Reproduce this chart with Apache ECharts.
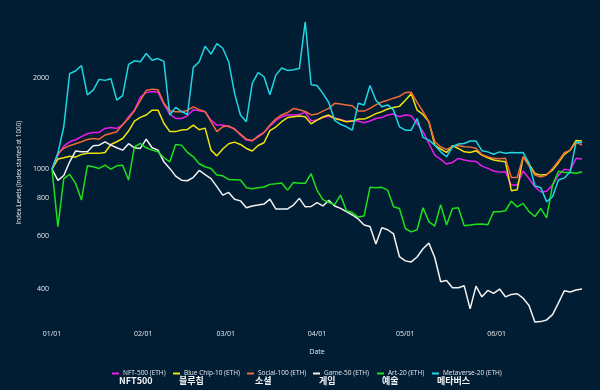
<!DOCTYPE html>
<html>
<head>
<meta charset="utf-8">
<script src="https://cdn.jsdelivr.net/npm/echarts@6/dist/echarts.min.js"></script>
<style>
html,body{margin:0;padding:0;background:#011d33;}
#chart{width:600px;height:390px;}
</style>
</head>
<body>
<div id="chart"></div>
<script>
// Dates (every second day, 2022-01-01 .. 2022-06-30)
var dates = [
'2022-01-01','2022-01-03','2022-01-05','2022-01-07','2022-01-09','2022-01-11','2022-01-13','2022-01-15','2022-01-17','2022-01-19','2022-01-21','2022-01-23','2022-01-25','2022-01-27','2022-01-29','2022-01-31',
'2022-02-02','2022-02-04','2022-02-06','2022-02-08','2022-02-10','2022-02-12','2022-02-14','2022-02-16','2022-02-18','2022-02-20','2022-02-22','2022-02-24','2022-02-26','2022-02-28',
'2022-03-02','2022-03-04','2022-03-06','2022-03-08','2022-03-10','2022-03-12','2022-03-14','2022-03-16','2022-03-18','2022-03-20','2022-03-22','2022-03-24','2022-03-26','2022-03-28','2022-03-30',
'2022-04-01','2022-04-03','2022-04-05','2022-04-07','2022-04-09','2022-04-11','2022-04-13','2022-04-15','2022-04-17','2022-04-19','2022-04-21','2022-04-23','2022-04-25','2022-04-27','2022-04-29',
'2022-05-01','2022-05-03','2022-05-05','2022-05-07','2022-05-09','2022-05-11','2022-05-13','2022-05-15','2022-05-17','2022-05-19','2022-05-21','2022-05-23','2022-05-25','2022-05-27','2022-05-29','2022-05-31',
'2022-06-02','2022-06-04','2022-06-06','2022-06-08','2022-06-10','2022-06-12','2022-06-14','2022-06-16','2022-06-18','2022-06-20','2022-06-22','2022-06-24','2022-06-26','2022-06-28','2022-06-30'
];

var nft500 = [1000,1112,1191,1231,1250,1280,1309,1322,1322,1363,1373,1363,1398,1490,1566,1730,1790,1806,1795,
1636,1520,1470,1470,1500,1570,1560,1548,1452,1398,1398,1380,1363,1296,1247,1238,1290,
1322,1387,1446,1490,1510,1510,1515,1540,1442,1452,1480,1495,1475,1460,1438,1442,1442,1423,
1442,1470,1480,1510,1520,1490,1510,1500,1415,1330,1215,1112,1076,1039,1052,1085,1071,1063,
1060,1023,1005,985,977,980,885,885,985,931,874,840,845,885,955,998,992,1085,1079];

var blueChip10 = [1000,1079,1090,1103,1095,1118,1127,1127,1127,1135,1206,1231,1262,1336,1441,1482,1509,1566,1566,
1417,1330,1330,1346,1352,1398,1349,1366,1155,1106,1165,1213,1228,1206,1170,1147,1197,
1222,1340,1377,1434,1480,1490,1497,1490,1411,1452,1487,1509,1470,1452,1434,1441,1463,1463,
1490,1525,1548,1580,1597,1612,1690,1775,1566,1516,1434,1200,1165,1135,1195,1170,1140,1135,
1150,1112,1090,1071,1063,1057,848,854,1098,1039,967,955,960,992,1050,1118,1155,1243,1238];

var social100 = [1000,1124,1172,1195,1213,1231,1253,1262,1256,1296,1312,1328,1405,1470,1560,1683,1820,1838,1828,
1650,1560,1548,1548,1563,1605,1572,1548,1434,1330,1380,1390,1352,1305,1256,1243,1277,
1320,1398,1463,1510,1538,1585,1570,1550,1510,1520,1555,1588,1650,1640,1630,1620,1555,1555,
1588,1630,1666,1690,1716,1740,1790,1795,1662,1552,1434,1231,1185,1162,1185,1197,1185,1182,
1172,1118,1098,1085,1082,1085,938,938,1098,1025,955,941,955,1005,1063,1132,1155,1225,1200];

var game50 = [1000,917,952,1057,1147,1141,1141,1195,1200,1231,1200,1176,1155,1213,1176,1170,1256,1176,1155,
1057,1005,948,919,915,939,990,958,930,875,820,837,795,785,745,755,760,
766,795,738,738,738,760,800,750,752,775,755,788,755,741,723,705,684,653,
646,565,640,630,610,513,497,493,512,545,569,510,424,428,405,405,411,345,
410,378,397,388,401,378,385,387,374,354,312,313,317,330,361,396,392,398,401];

var art20 = [1000,645,930,960,897,790,1025,1018,1005,1030,1000,1025,1030,920,1185,1215,1176,1155,1141,
1090,1057,1206,1200,1135,1098,1041,1018,1005,955,950,924,922,920,868,861,868,
872,890,894,900,852,903,897,897,965,852,792,775,763,820,728,718,694,700,
870,868,870,852,750,741,636,620,630,745,670,648,763,653,741,745,650,653,
657,658,655,723,723,728,783,750,770,723,697,741,690,885,983,975,975,968,980];

var metaverse20 = [1000,1127,1380,2070,2110,2200,1760,1825,1980,1965,1990,1690,1750,2220,2280,2265,2410,2290,2320,
2270,1510,1600,1550,1515,2170,2265,2550,2400,2600,2510,2265,1780,1510,1434,1920,2085,
2020,1760,2045,2160,2120,2130,2150,3070,1900,1890,1780,1660,1450,1405,1380,1345,1650,1630,
1890,1690,1607,1630,1566,1380,1345,1345,1470,1273,1247,1200,1140,1098,1185,1210,1215,1238,
1238,1150,1140,1120,1140,1128,1135,1132,1135,1045,880,868,780,810,920,935,980,1231,1222];

var seriesNames = ['NFT-500 (ETH)','Blue Chip-10 (ETH)','Social-100 (ETH)','Game-50 (ETH)','Art-20 (ETH)','Metaverse-20 (ETH)'];
var koreanNames = ['NFT500','블루칩','소셜','게임','예술','메타버스'];
var seriesColors = ['#ec1cec','#f2e30c','#f26a36','#f2f2f2','#1fe01a','#21d6e4'];
var yTicks = [400,600,800,1000,2000];
var xTickDates = ['2022-01-01','2022-02-01','2022-03-01','2022-04-01','2022-05-01','2022-06-01'];
var seriesValues = [nft500, blueChip10, social100, game50, art20, metaverse20];

var legendLeft = [107,168,242,308,372,427];
var koreanLeft = [119,179,255,319,382,437];

function ts(s){ var p = s.split('-'); return Date.UTC(+p[0], +p[1]-1, +p[2]); }
function fmt(v){ var d = new Date(v); var m = d.getUTCMonth()+1, dd = d.getUTCDate();
  return (m<10?'0':'')+m+'/'+(dd<10?'0':'')+dd; }

var txt = '#e6e9ef';
var series = seriesNames.map(function(n,i){
  return {
    name:n, type:'line', showSymbol:false, symbol:'none',
    data: dates.map(function(d,j){ return [ts(d), seriesValues[i][j]]; }),
    lineStyle:{width:1.5, color:seriesColors[i]},
    itemStyle:{color:seriesColors[i]},
    emphasis:{disabled:true}
  };
});

var legends = seriesNames.map(function(n,i){
  return {
    data:[n], left:legendLeft[i], top:365, orient:'horizontal',
    icon:'rect', itemWidth:7, itemHeight:2, itemGap:0,
    textStyle:{color:txt, fontSize:6.5, fontFamily:'Open Sans', padding:[0,0,0,-1]},
    selectedMode:false
  };
});

var graphics = koreanNames.map(function(k,i){
  return {
    type:'text', left:koreanLeft[i], top:376,
    style:{text:k, fill:'#f2f4f8', font:'bold 9px "Noto Sans CJK KR"'}
  };
});

var chart = echarts.init(document.getElementById('chart'), null, {renderer:'canvas'});
chart.setOption({
  backgroundColor:'#011d33',
  animation:false,
  grid:{left:52, right:18, top:20.5, bottom:65},
  legend:legends,
  graphic:graphics,
  xAxis:{
    type:'value', min:ts('2022-01-01'), max:ts('2022-06-30'),
    name:'Date', nameLocation:'middle', nameGap:23,
    nameTextStyle:{color:txt, fontSize:7, fontFamily:'Open Sans'},
    axisLine:{show:false}, axisTick:{show:false}, splitLine:{show:false},
    axisLabel:{
      color:txt, fontSize:7, fontFamily:'Open Sans', margin:5,
      customValues: xTickDates.map(ts),
      formatter:function(v){ return fmt(v); }
    }
  },
  yAxis:{
    type:'log', logBase:10, min:305, max:3100,
    name:'Index Levels (Index started at 1000)', nameLocation:'middle', nameGap:27,
    nameTextStyle:{color:txt, fontSize:6.3, fontFamily:'Open Sans'},
    axisLine:{show:false}, axisTick:{show:false}, splitLine:{show:false},
    axisLabel:{
      color:txt, fontSize:7, fontFamily:'Open Sans', margin:3,
      customValues: yTicks,
      formatter:function(v){ return String(Math.round(v)); }
    }
  },
  series:series
});
</script>
</body>
</html>
